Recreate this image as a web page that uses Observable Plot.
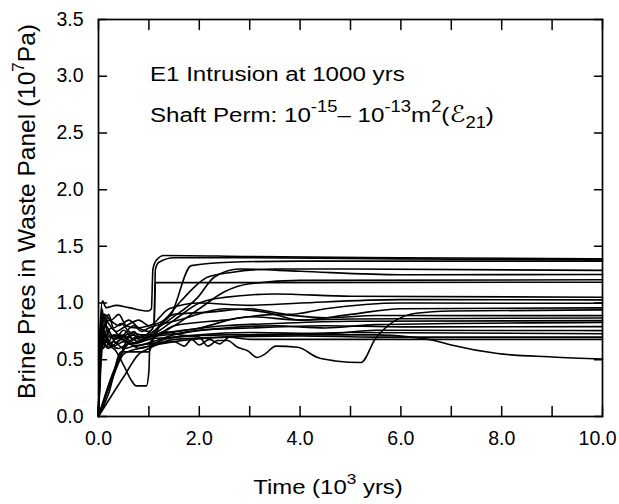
<!DOCTYPE html>
<html><head><meta charset="utf-8">
<script src="https://cdn.jsdelivr.net/npm/d3@7"></script>
<script src="https://cdn.jsdelivr.net/npm/@observablehq/plot@0.6"></script>
<style>
html,body{margin:0;padding:0;background:#fff;}
</style>
</head><body><div id="chart"></div>
<script>
// ---- tick values ----
const xTicks = [0,1,2,3,4,5,6,7,8,9,10];
const xLabelTicks = [0,2,4,6,8];
const xLastLabel = [10];
const yTicks = [0,0.5,1.0,1.5,2.0,2.5,3.0,3.5];

// ---- text ----
const xTitle = ["Time (10", "3", " yrs)"];
const yTitle = ["Brine Pres in Waste Panel (10", "7", "Pa)"];
const annoLine1 = "E1 Intrusion at 1000 yrs";
const annoLine2 = ["Shaft Perm: 10", "-15", "– 10", "-13", "m", "2", "(", "ℰ", "21", ")"];

// ---- brine pressure curves [time (10^3 yrs), pressure (10^7 Pa)] ----
const c01 = [[0,0],[0.04,0.85],[0.08,1.02],[0.15,0.96],[0.35,0.98],[0.6,0.96],[0.98,0.93],[1.05,0.95],[1.08,1.3],[1.15,1.38],[1.3,1.42],[3,1.41],[6,1.40],[10,1.39]];
const c02 = [[0,0],[0.03,0.7],[0.07,0.95],[0.12,0.8],[0.2,0.9],[0.3,0.78],[0.45,0.82],[0.6,0.75],[0.8,0.7],[1.0,0.74],[1.1,0.8],[1.13,1.3],[1.2,1.36],[1.5,1.4],[3,1.4],[6,1.39],[10,1.38]];
const c03 = [[0,0],[0.05,0.6],[0.1,0.88],[0.2,0.72],[0.35,0.7],[0.5,0.76],[0.7,0.68],[0.9,0.72],[1.0,0.7],[1.2,0.8],[1.44,0.9],[1.84,1.33],[2.6,1.36],[4,1.37],[10,1.37]];
const c04 = [[0,0],[0.06,0.75],[0.12,0.9],[0.25,0.85],[0.4,0.9],[0.55,0.8],[0.75,0.78],[1.0,0.8],[1.3,0.85],[1.64,1.02],[2.17,1.23],[2.63,1.27],[3.5,1.3],[5,1.3],[10,1.288]];
const c05 = [[0,0],[0.04,0.5],[0.09,0.8],[0.18,0.65],[0.3,0.72],[0.5,0.68],[0.7,0.72],[0.85,0.66],[1.0,0.72],[1.4,0.85],[1.97,1.05],[2.3,1.23],[2.8,1.3],[4,1.28],[6,1.25],[10,1.252]];
const c06 = [[0,0],[0.3,0.4],[0.55,0.62],[0.75,0.7],[1.0,0.7],[1.5,0.8],[2.0,0.95],[2.5,1.1],[3.0,1.17],[4,1.2],[10,1.205]];
const c07 = [[0,0],[0.05,0.9],[0.1,0.78],[0.2,0.85],[0.4,0.8],[0.6,0.85],[0.8,0.78],[1.0,0.75],[1.1,0.8],[1.13,1.18],[2,1.18],[10,1.184]];
const c08 = [[0,0],[0.08,0.65],[0.15,0.8],[0.3,0.68],[0.5,0.7],[0.7,0.65],[1.0,0.7],[1.5,0.85],[2,1.0],[2.5,1.05],[3.5,1.08],[5,1.06],[10,1.051]];
const c09 = [[0,0],[0.03,0.55],[0.08,0.9],[0.2,0.82],[0.35,0.75],[0.55,0.8],[0.8,0.85],[1.0,0.8],[1.4,0.95],[2.0,1.0],[3.0,0.98],[4,1.0],[6,1.03],[10,1.028]];
const c10 = [[0,0],[0.2,0.2],[0.45,0.57],[1.0,0.57],[1.1,0.7],[1.5,0.9],[2.2,0.92],[3,0.95],[3.8,0.9],[4.5,0.95],[6,1.0],[10,0.998]];
const c11 = [[0,0],[0.05,0.7],[0.1,0.6],[0.2,0.75],[0.35,0.65],[0.5,0.72],[0.7,0.8],[0.85,0.75],[1.0,0.78],[1.6,0.85],[2.5,0.95],[3.3,0.92],[4.0,0.85],[5,0.9],[6,0.95],[10,0.958]];
const c12 = [[0,0],[0.04,0.78],[0.1,0.65],[0.2,0.6],[0.35,0.7],[0.6,0.66],[0.8,0.7],[1.0,0.68],[1.3,0.75],[1.6,0.72],[2.0,0.7],[2.17,0.62],[2.36,0.67],[2.56,0.67],[2.76,0.61],[2.96,0.58],[3.15,0.52],[3.3,0.55],[3.52,0.62],[3.95,0.61],[4.35,0.52],[4.7,0.49],[5.21,0.476],[5.5,0.69],[6.3,0.91],[7,0.93],[10,0.94]];
const c13 = [[0,0],[0.05,0.8],[0.15,0.62],[0.3,0.6],[0.5,0.45],[0.65,0.32],[0.75,0.27],[0.95,0.27],[1.0,0.4],[1.02,0.65],[1.2,0.72],[1.5,0.8],[2.5,0.85],[3.5,0.9],[4.5,0.87],[5.5,0.89],[10,0.889]];
const c14 = [[0,0],[0.4,0.5],[0.7,0.75],[0.85,0.68],[1.0,0.7],[2,0.78],[3,0.88],[4,0.85],[5,0.86],[10,0.869]];
const c15 = [[0,0],[0.06,0.85],[0.12,0.7],[0.25,0.78],[0.45,0.7],[0.65,0.74],[0.85,0.72],[1.0,0.72],[1.5,0.75],[2.5,0.8],[3.5,0.82],[5,0.84],[10,0.845]];
const c16 = [[0,0],[0.03,0.65],[0.07,0.8],[0.15,0.72],[0.3,0.62],[0.5,0.66],[0.75,0.62],[1.0,0.65],[1.5,0.72],[2.5,0.78],[3.5,0.8],[4.5,0.78],[5.5,0.81],[10,0.83]];
const c17 = [[0,0],[0.05,0.75],[0.1,0.9],[0.2,0.7],[0.4,0.72],[0.6,0.7],[0.8,0.66],[1.0,0.7],[1.4,0.72],[2,0.76],[3,0.78],[4.5,0.8],[6,0.79],[10,0.792]];
const c18 = [[0,0],[0.25,0.3],[0.5,0.55],[0.8,0.6],[1.0,0.62],[1.3,0.68],[2,0.72],[3,0.74],[4.5,0.73],[5.5,0.76],[10,0.757]];
const c19 = [[0,0],[0.04,0.6],[0.1,0.72],[0.2,0.66],[0.4,0.6],[0.6,0.64],[0.8,0.6],[1.0,0.62],[1.5,0.66],[2.5,0.7],[3.5,0.72],[5,0.74],[10,0.73]];
const c20 = [[0,0],[0.5,0.35],[0.8,0.55],[1.0,0.6],[1.5,0.68],[2.5,0.7],[4,0.71],[5.5,0.7],[10,0.70]];
const c21 = [[0,0],[0.06,0.7],[0.12,0.62],[0.3,0.66],[0.5,0.6],[0.7,0.62],[1.0,0.64],[1.5,0.66],[1.7,0.62],[1.85,0.68],[2.0,0.63],[2.2,0.68],[2.4,0.64],[2.6,0.7],[3,0.68],[5,0.68],[10,0.68]];
const c22 = [[0,0],[0.05,0.55],[0.1,0.68],[0.25,0.62],[0.45,0.68],[0.7,0.64],[1.0,0.68],[1.5,0.7],[2.5,0.72],[4,0.72],[5.5,0.72],[6.2,0.70],[6.66,0.67],[7.0,0.63],[7.92,0.555],[9,0.525],[10,0.506]];

const runs = {c01,c02,c03,c04,c05,c06,c07,c08,c09,c10,c11,c12,c13,c14,c15,c16,c17,c18,c19,c20,c21,c22};
const data = Object.entries(runs).flatMap(([run, pts]) => pts.map(([t, v]) => ({run, t, v})));

// ---- layout constants ----
const FONT = "'Liberation Sans', Arial, Helvetica, sans-serif";
const SX = 1.15;           // horizontal stretch of the reference lettering
const annoX = 1.03, annoY1 = 2.95, annoY2 = 2.595;
const xMin = 0, xMax = 10, yMin = 0, yMax = 3.5;

// inward tick shape: a plain line of the vector's length
const tickShape = {draw(context, l) { context.moveTo(0, 0); context.lineTo(0, -l); }};
const tickStyle = {stroke: "#000", strokeWidth: 1.5, anchor: "start", shape: tickShape};
const fmt = d => d.toFixed(1);

const plot = Plot.plot({
  width: 619, height: 504,
  marginLeft: 98, marginRight: 17, marginTop: 19, marginBottom: 88,
  style: {fontFamily: FONT, background: "#fff", color: "#000", overflow: "visible"},
  x: {domain: [xMin, xMax]},
  y: {domain: [yMin, yMax]},
  marks: [
    Plot.line(data, {x: "t", y: "v", z: "run", stroke: "#000", strokeWidth: 1.6, curve: "monotone-x"}),
    Plot.frame({stroke: "#000", strokeWidth: 1.7}),
    Plot.vector(xTicks, {x: d => d, y: () => yMin, length: 10, rotate: 0, ...tickStyle}),
    Plot.vector(xTicks, {x: d => d, y: () => yMax, length: 10, rotate: 180, ...tickStyle}),
    Plot.vector(yTicks, {y: d => d, x: () => xMin, length: 8, rotate: 90, ...tickStyle}),
    Plot.vector(yTicks, {y: d => d, x: () => xMax, length: 8, rotate: -90, ...tickStyle}),
    Plot.axisX(xLabelTicks, {anchor: "bottom", tickSize: 0, tickPadding: 15, tickFormat: fmt, fontSize: 19.5, label: null}),
    Plot.axisX(xLastLabel, {anchor: "bottom", tickSize: 0, tickPadding: 15, tickFormat: fmt, fontSize: 19.5, dx: -5, label: null}),
    Plot.axisY(yTicks, {anchor: "left", tickSize: 0, tickPadding: 15, tickFormat: fmt, fontSize: 19.5, label: null})
  ]
});

const svg = d3.select(plot);
const xs = plot.scale("x"), ys = plot.scale("y");
const g = svg.append("g").attr("font-family", FONT).attr("fill", "#000");

// annotation
const SUP = 16;
g.append("text").attr("transform", `translate(${xs.apply(annoX)},${ys.apply(annoY1)}) scale(${SX},1)`)
  .attr("text-anchor", "start").attr("font-size", 21).text(annoLine1);
const a2 = g.append("text").attr("transform", `translate(${xs.apply(annoX)},${ys.apply(annoY2)}) scale(${SX},1)`)
  .attr("text-anchor", "start").attr("font-size", 21);
a2.append("tspan").text(annoLine2[0]);
a2.append("tspan").attr("dy", -10).attr("font-size", SUP).text(annoLine2[1]);
a2.append("tspan").attr("dy", 10).text(annoLine2[2]);
a2.append("tspan").attr("dy", -10).attr("font-size", SUP).text(annoLine2[3]);
a2.append("tspan").attr("dy", 10).text(annoLine2[4]);
a2.append("tspan").attr("dy", -10).attr("font-size", SUP).text(annoLine2[5]);
a2.append("tspan").attr("dy", 10).text(annoLine2[6]);
a2.append("tspan").attr("font-family", "'DejaVu Serif', 'DejaVu Sans', serif").attr("font-style", "italic").attr("font-size", 23).text(annoLine2[7]);
a2.append("tspan").attr("dy", 6).attr("font-size", SUP).text(annoLine2[8]);
a2.append("tspan").attr("dy", -6).text(annoLine2[9]);

// x title
const xMid = (xs.range[0] + xs.range[1]) / 2;
const xt = g.append("text").attr("transform", `translate(${xMid - 22},494) scale(${SX},1)`)
  .attr("text-anchor", "middle").attr("font-size", 20.8);
xt.append("tspan").text(xTitle[0]);
xt.append("tspan").attr("dy", -10).attr("font-size", 15).text(xTitle[1]);
xt.append("tspan").attr("dy", 10).text(xTitle[2]);

// y title
const yMid = (ys.range[0] + ys.range[1]) / 2;
const yt = g.append("text").attr("transform", `translate(35,${yMid - 6}) rotate(-90)`)
  .attr("text-anchor", "middle").attr("font-size", 24.5);
yt.append("tspan").text(yTitle[0]);
yt.append("tspan").attr("dy", -11).attr("font-size", 17).text(yTitle[1]);
yt.append("tspan").attr("dy", 11).text(yTitle[2]);

document.getElementById("chart").appendChild(plot);
</script>
</body></html>
